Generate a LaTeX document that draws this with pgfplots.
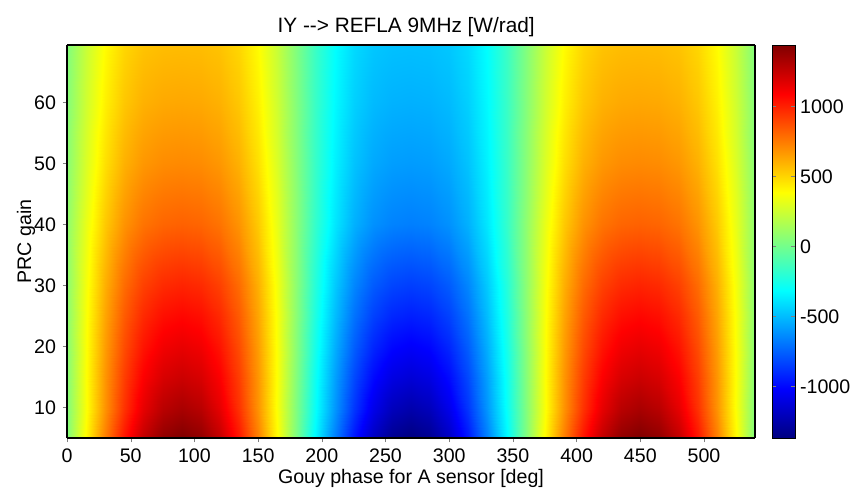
\documentclass[border=0pt]{standalone}
\usepackage{fontspec}
\setmainfont{Liberation Sans}
\usepackage{pgfplots}
\pgfplotsset{compat=1.18}
\begin{document}
\begin{tikzpicture}
\path[use as bounding box] (-33.5pt,-28.5pt) rectangle (391.5pt,219pt);
\begin{axis}[
  at={(0,0)}, anchor=south west,
  scale only axis, width=344pt, height=196.5pt,
  view={0}{90},
  xmin=0, xmax=540, ymin=5, ymax=69.4,
  xtick={0,50,...,500}, ytick={10,20,...,60},
  tick align=outside, xtick pos=left, ytick pos=left, major tick length=2pt,
  axis on top, axis line style={line width=1pt},
  colormap/jet,
  point meta min=-1370, point meta max=1440,
  /pgf/number format/assume math mode=true,
  /pgf/number format/1000 sep={},
  tick label style={font=\fontsize{9.8}{11}\selectfont},
  label style={font=\fontsize{9.8}{11}\selectfont},
  title style={font=\fontsize{10.4}{12}\selectfont, at={(0.493,1)}, anchor=base},
  title={IY -{}-{}> REFLA 9MHz [W/rad]},
  xlabel={Gouy phase for A sensor [deg]},
  ylabel={PRC gain},
  xlabel style={at={(0.5,-0.1145)}, anchor=base},
  ylabel style={at={(-0.0523,0.5)}, anchor=base},
  colorbar,
  colorbar style={
    at={(parent axis.north east)}, anchor=north west,
    width=11.5pt,
    ytick={-1000,-500,0,500,1000},
    tick align=inside, major tick length=2pt,
    ytick pos=both, yticklabel pos=right,
    yticklabel style={font=\fontsize{9.8}{11}\selectfont, xshift=-1pt},
    /pgf/number format/assume math mode=true,
    /pgf/number format/1000 sep={},
    axis line style={line width=0.4pt},
  },
]
\addplot3[surf, shader=interp, mesh/cols=37] table[row sep=\\] {
x y z\\
0 5 35\\ 15 5 399\\ 30 5 738\\ 45 5 1029\\ 60 5 1252\\ 75 5 1392\\ 90 5 1440\\ 105 5 1392\\ 120 5 1252\\ 135 5 1029\\ 150 5 738\\ 165 5 399\\ 180 5 35\\ 195 5 -329\\ 210 5 -668\\ 225 5 -959\\ 240 5 -1182\\ 255 5 -1322\\ 270 5 -1370\\ 285 5 -1322\\ 300 5 -1182\\ 315 5 -959\\ 330 5 -668\\ 345 5 -329\\ 360 5 35\\ 375 5 399\\ 390 5 738\\ 405 5 1029\\ 420 5 1252\\ 435 5 1392\\ 450 5 1440\\ 465 5 1392\\ 480 5 1252\\ 495 5 1029\\ 510 5 738\\ 525 5 399\\ 540 5 35\\
0 10 40\\ 15 10 373\\ 30 10 683\\ 45 10 949\\ 60 10 1153\\ 75 10 1281\\ 90 10 1325\\ 105 10 1281\\ 120 10 1153\\ 135 10 949\\ 150 10 683\\ 165 10 373\\ 180 10 40\\ 195 10 -293\\ 210 10 -603\\ 225 10 -869\\ 240 10 -1073\\ 255 10 -1201\\ 270 10 -1245\\ 285 10 -1201\\ 300 10 -1073\\ 315 10 -869\\ 330 10 -603\\ 345 10 -293\\ 360 10 40\\ 375 10 373\\ 390 10 683\\ 405 10 949\\ 420 10 1153\\ 435 10 1281\\ 450 10 1325\\ 465 10 1281\\ 480 10 1153\\ 495 10 949\\ 510 10 683\\ 525 10 373\\ 540 10 40\\
0 15 50\\ 15 15 379\\ 30 15 676\\ 45 15 918\\ 60 15 1093\\ 75 15 1196\\ 90 15 1230\\ 105 15 1196\\ 120 15 1093\\ 135 15 918\\ 150 15 676\\ 165 15 379\\ 180 15 50\\ 195 15 -279\\ 210 15 -576\\ 225 15 -818\\ 240 15 -993\\ 255 15 -1096\\ 270 15 -1130\\ 285 15 -1096\\ 300 15 -993\\ 315 15 -818\\ 330 15 -576\\ 345 15 -279\\ 360 15 50\\ 375 15 379\\ 390 15 676\\ 405 15 918\\ 420 15 1093\\ 435 15 1196\\ 450 15 1230\\ 465 15 1196\\ 480 15 1093\\ 495 15 918\\ 510 15 676\\ 525 15 379\\ 540 15 50\\
0 20 60\\ 15 20 375\\ 30 20 656\\ 45 20 878\\ 60 20 1033\\ 75 20 1122\\ 90 20 1150\\ 105 20 1122\\ 120 20 1033\\ 135 20 878\\ 150 20 656\\ 165 20 375\\ 180 20 60\\ 195 20 -255\\ 210 20 -536\\ 225 20 -758\\ 240 20 -913\\ 255 20 -1002\\ 270 20 -1030\\ 285 20 -1002\\ 300 20 -913\\ 315 20 -758\\ 330 20 -536\\ 345 20 -255\\ 360 20 60\\ 375 20 375\\ 390 20 656\\ 405 20 878\\ 420 20 1033\\ 435 20 1122\\ 450 20 1150\\ 465 20 1122\\ 480 20 1033\\ 495 20 878\\ 510 20 656\\ 525 20 375\\ 540 20 60\\
0 25 68\\ 15 25 369\\ 30 25 633\\ 45 25 838\\ 60 25 975\\ 75 25 1050\\ 90 25 1073\\ 105 25 1050\\ 120 25 975\\ 135 25 838\\ 150 25 633\\ 165 25 369\\ 180 25 68\\ 195 25 -233\\ 210 25 -497\\ 225 25 -702\\ 240 25 -839\\ 255 25 -914\\ 270 25 -937\\ 285 25 -914\\ 300 25 -839\\ 315 25 -702\\ 330 25 -497\\ 345 25 -233\\ 360 25 68\\ 375 25 369\\ 390 25 633\\ 405 25 838\\ 420 25 975\\ 435 25 1050\\ 450 25 1073\\ 465 25 1050\\ 480 25 975\\ 495 25 838\\ 510 25 633\\ 525 25 369\\ 540 25 68\\
0 30 72\\ 15 30 357\\ 30 30 605\\ 45 30 791\\ 60 30 911\\ 75 30 973\\ 90 30 992\\ 105 30 973\\ 120 30 911\\ 135 30 791\\ 150 30 605\\ 165 30 357\\ 180 30 72\\ 195 30 -213\\ 210 30 -461\\ 225 30 -647\\ 240 30 -767\\ 255 30 -829\\ 270 30 -848\\ 285 30 -829\\ 300 30 -767\\ 315 30 -647\\ 330 30 -461\\ 345 30 -213\\ 360 30 72\\ 375 30 357\\ 390 30 605\\ 405 30 791\\ 420 30 911\\ 435 30 973\\ 450 30 992\\ 465 30 973\\ 480 30 911\\ 495 30 791\\ 510 30 605\\ 525 30 357\\ 540 30 72\\
0 40 76\\ 15 40 323\\ 30 40 533\\ 45 40 682\\ 60 40 770\\ 75 40 810\\ 90 40 821\\ 105 40 810\\ 120 40 770\\ 135 40 682\\ 150 40 533\\ 165 40 323\\ 180 40 76\\ 195 40 -171\\ 210 40 -381\\ 225 40 -530\\ 240 40 -618\\ 255 40 -658\\ 270 40 -669\\ 285 40 -658\\ 300 40 -618\\ 315 40 -530\\ 330 40 -381\\ 345 40 -171\\ 360 40 76\\ 375 40 323\\ 390 40 533\\ 405 40 682\\ 420 40 770\\ 435 40 810\\ 450 40 821\\ 465 40 810\\ 480 40 770\\ 495 40 682\\ 510 40 533\\ 525 40 323\\ 540 40 76\\
0 50 60\\ 15 50 283\\ 30 50 470\\ 45 50 600\\ 60 50 672\\ 75 50 703\\ 90 50 710\\ 105 50 703\\ 120 50 672\\ 135 50 600\\ 150 50 470\\ 165 50 283\\ 180 50 60\\ 195 50 -163\\ 210 50 -350\\ 225 50 -480\\ 240 50 -552\\ 255 50 -583\\ 270 50 -590\\ 285 50 -583\\ 300 50 -552\\ 315 50 -480\\ 330 50 -350\\ 345 50 -163\\ 360 50 60\\ 375 50 283\\ 390 50 470\\ 405 50 600\\ 420 50 672\\ 435 50 703\\ 450 50 710\\ 465 50 703\\ 480 50 672\\ 495 50 600\\ 510 50 470\\ 525 50 283\\ 540 50 60\\
0 60 48\\ 15 60 254\\ 30 60 424\\ 45 60 539\\ 60 60 600\\ 75 60 623\\ 90 60 628\\ 105 60 623\\ 120 60 600\\ 135 60 539\\ 150 60 424\\ 165 60 254\\ 180 60 48\\ 195 60 -158\\ 210 60 -328\\ 225 60 -443\\ 240 60 -504\\ 255 60 -527\\ 270 60 -532\\ 285 60 -527\\ 300 60 -504\\ 315 60 -443\\ 330 60 -328\\ 345 60 -158\\ 360 60 48\\ 375 60 254\\ 390 60 424\\ 405 60 539\\ 420 60 600\\ 435 60 623\\ 450 60 628\\ 465 60 623\\ 480 60 600\\ 495 60 539\\ 510 60 424\\ 525 60 254\\ 540 60 48\\
0 69.4 40\\ 15 69.4 234\\ 30 69.4 393\\ 45 69.4 498\\ 60 69.4 550\\ 75 69.4 567\\ 90 69.4 570\\ 105 69.4 567\\ 120 69.4 550\\ 135 69.4 498\\ 150 69.4 393\\ 165 69.4 234\\ 180 69.4 40\\ 195 69.4 -154\\ 210 69.4 -313\\ 225 69.4 -418\\ 240 69.4 -470\\ 255 69.4 -487\\ 270 69.4 -490\\ 285 69.4 -487\\ 300 69.4 -470\\ 315 69.4 -418\\ 330 69.4 -313\\ 345 69.4 -154\\ 360 69.4 40\\ 375 69.4 234\\ 390 69.4 393\\ 405 69.4 498\\ 420 69.4 550\\ 435 69.4 567\\ 450 69.4 570\\ 465 69.4 567\\ 480 69.4 550\\ 495 69.4 498\\ 510 69.4 393\\ 525 69.4 234\\ 540 69.4 40\\
};
\end{axis}
\end{tikzpicture}
\end{document}
